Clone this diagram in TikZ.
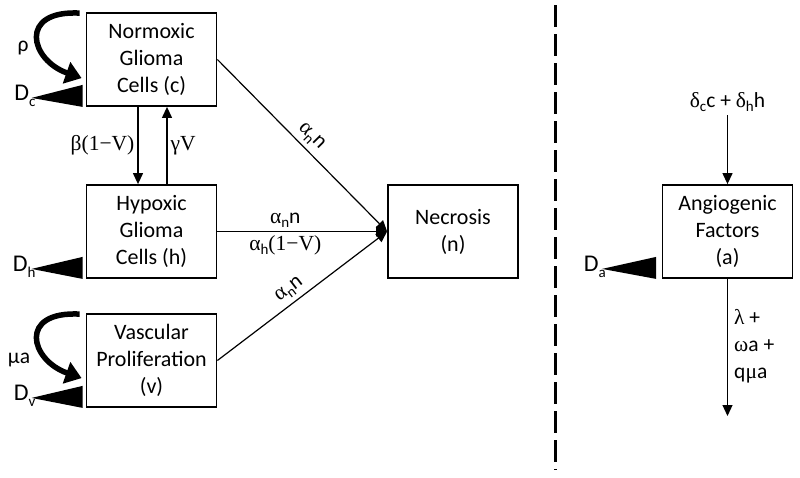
\documentclass[tikz,border=0pt]{standalone}
\usepackage{fontspec}
\setmainfont{Carlito}
\newfontfamily\symf{Liberation Serif}
\usetikzlibrary{arrows.meta}
\newcommand\gk[1]{{\symf #1}}
\newcommand\sbs[1]{\raisebox{-0.45ex}{\fontsize{15}{15}\selectfont #1}}
\begin{document}
\begin{tikzpicture}[x=1pt,y=-1pt,
  box/.style={draw,line width=1.8pt,minimum width=130pt,minimum height=93pt,align=center,
    font=\fontsize{22}{27}\selectfont,inner sep=0pt},
  conn/.style={line width=1.2pt,-{Triangle[length=11pt,width=10pt]}},
  lbl/.style={font=\fontsize{21.5}{25}\selectfont,inner sep=3pt},
  dlbl/.style={font=\fontsize{24}{25}\selectfont,inner sep=0pt,anchor=base east},
  wedge/.style={fill=black},
  loopar/.style={line width=5.5pt,-{Triangle[length=16pt,width=22pt]}},
  divider/.style={line width=3pt,dash pattern=on 22pt off 7pt}
]
\useasboundingbox (0,0) rectangle (800,477);

% boxes
\node[box] (c) at (151.5,59.5) {Normoxic\\Glioma\\Cells (c)};
\node[box] (h) at (151.5,231.5) {Hypoxic\\Glioma\\Cells (h)};
\node[box] (v) at (151.5,360.5) {Vascular\\Proliferation\\(v)};
\node[box] (n) at (453,231.5) {Necrosis\\(n)};
\node[box] (a) at (727.5,231.5) {Angiogenic\\Factors\\(a)};

% c <-> h
\draw[conn] ([xshift=-13.5pt]c.south) -- ([xshift=-13.5pt]h.north)
  node[midway,left,lbl] (lb) {\gk{β(1−V)}};
\draw[conn] ([xshift=15.5pt]h.north) -- ([xshift=15.5pt]c.south)
  node[midway,right,lbl] (lg) {\gk{γV}};

% to necrosis
\draw[conn] (c.east) -- (n.west)
  node[pos=0.5,sloped,above,lbl,inner sep=4pt] (l1) {\gk{α}\sbs{n}n};
\draw[conn] (h.east) -- (n.west)
  node[pos=0.4,above,lbl] (l2) {\gk{α}\sbs{n}n}
  node[pos=0.4,below,lbl] (l3) {\gk{α}\sbs{h}\gk{(1−V)}};
\draw[conn] (v.east) -- (n.west)
  node[pos=0.47,sloped,above,lbl,inner sep=4pt] (l4) {\gk{α}\sbs{n}n};

% diffusion wedges
\fill[wedge] ([xshift=-3pt]c.south west) -- ([xshift=-3pt,yshift=22pt]c.south west)
  -- ([xshift=-54pt,yshift=9pt]c.south west) coordinate (dc) -- cycle;
\node[dlbl] (ldc) at ([xshift=4pt,yshift=-3pt]dc) {D\sbs{c}};
\fill[wedge] ([xshift=-3pt]h.south west) -- ([xshift=-3pt,yshift=22pt]h.south west)
  -- ([xshift=-54pt,yshift=10pt]h.south west) coordinate (dh) -- cycle;
\node[dlbl] (ldh) at ([xshift=4pt,yshift=-3pt]dh) {D\sbs{h}};
\fill[wedge] ([xshift=-3pt]v.south west) -- ([xshift=-3pt,yshift=22pt]v.south west)
  -- ([xshift=-54pt,yshift=10pt]v.south west) coordinate (dv) -- cycle;
\node[dlbl] (ldv) at ([xshift=4pt,yshift=-3pt]dv) {D\sbs{v}};
\fill[wedge] ([xshift=-5.5pt]a.south west) -- ([xshift=-5.5pt,yshift=22pt]a.south west)
  -- ([xshift=-59.5pt,yshift=10pt]a.south west) coordinate (da) -- cycle;
\node[dlbl] (lda) at ([xshift=4pt,yshift=-3pt]da) {D\sbs{a}};

% growth loops
\coordinate (r1) at ([xshift=-6pt,yshift=-1pt]c.north west);
\coordinate (r2) at ([xshift=-4pt,yshift=-66pt]c.north west);
\draw[loopar] (r1) .. controls (18,10) and (30,60) .. (r2);
\node[lbl] (lrho) at (23,48) {ρ};
\coordinate (m1) at ([xshift=-6pt,yshift=-1pt]v.north west);
\coordinate (m2) at ([xshift=-4pt,yshift=-65pt]v.north west);
\draw[loopar] (m1) .. controls (18,311) and (30,360) .. (m2);
\node[lbl] (lmu) at (19,360) {μa};

% angiogenic factors
\coordinate (atop) at (727.5,115);
\coordinate (abot) at (727.5,416);
\draw[conn] (atop) -- (a.north);
\node[anchor=south,lbl] (lin) at (atop) {\gk{δ}\sbs{c}c + \gk{δ}\sbs{h}h};
\draw[conn] (a.south) -- (abot);
\node[anchor=north west,align=left,font=\fontsize{21.5}{27}\selectfont,inner sep=0pt] (lout) at (734,309)
  {\gk{λ} +\\\gk{ω}a +\\q\gk{μ}a};

% divider
\coordinate (d1) at (555,5);
\coordinate (d2) at (555,470);
\draw[divider] (d1) -- (d2);
\end{tikzpicture}
\end{document}
